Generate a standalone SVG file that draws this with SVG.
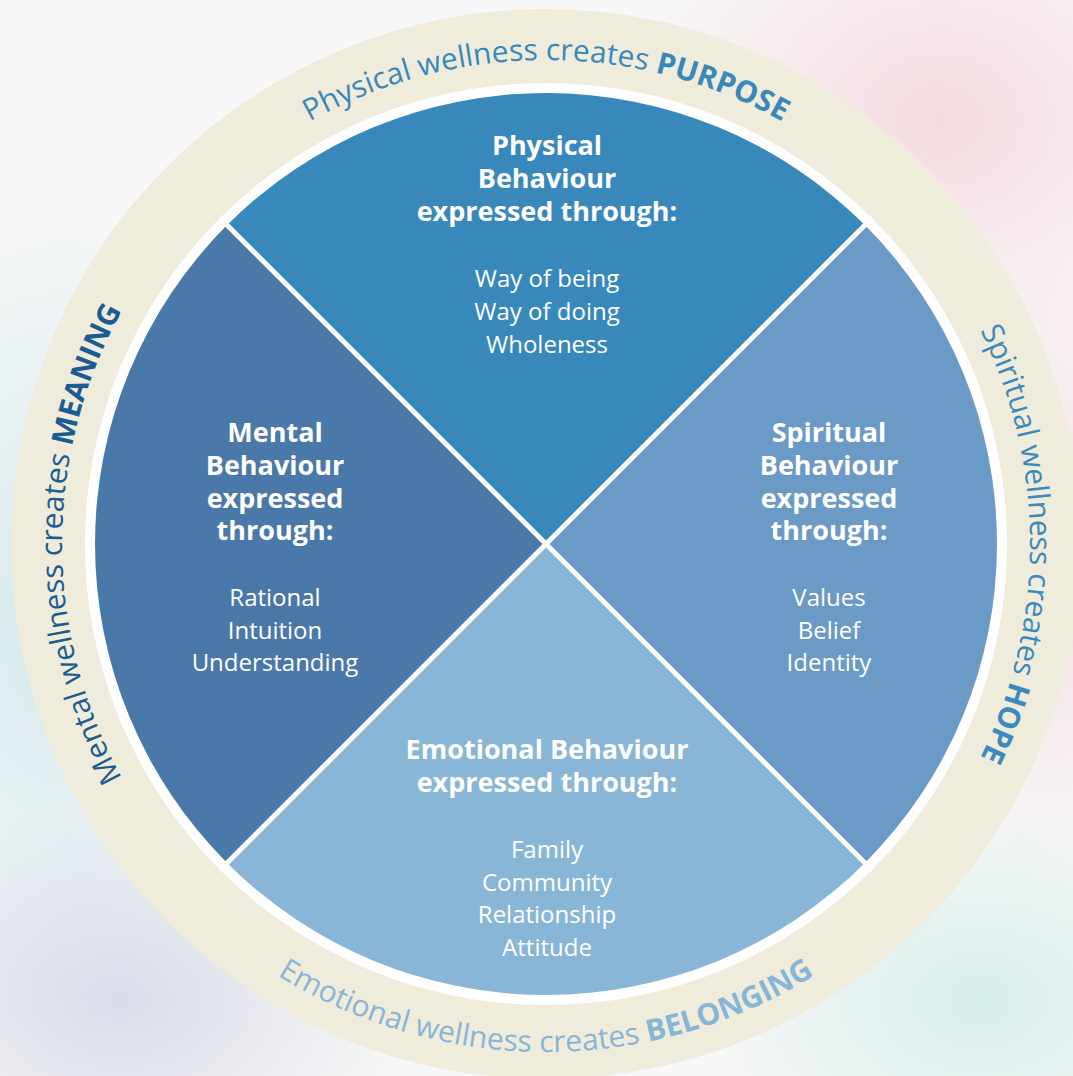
<svg xmlns="http://www.w3.org/2000/svg" width="1073" height="1076" viewBox="0 0 1073 1076">
  <defs>
    <style>
      .ring-txt { font-family: "Open Sans", "Noto Sans", "DejaVu Sans", sans-serif; font-size: 30px; font-weight: 400; }
      .ring-txt .b { font-weight: 700; }
      .head { font-family: "Open Sans", "Noto Sans", "DejaVu Sans", sans-serif; font-size: 27px; font-weight: 700; fill: #ffffff; text-anchor: middle; }
      .item { font-family: "Open Sans", "Noto Sans", "DejaVu Sans", sans-serif; font-size: 24px; font-weight: 400; fill: #ffffff; text-anchor: middle; }
    </style>
    <radialGradient id="bgPink" cx="0.5" cy="0.5" r="0.5">
      <stop offset="0" stop-color="#f4d6dc" stop-opacity="0.85"/>
      <stop offset="1" stop-color="#f4d6dc" stop-opacity="0"/>
    </radialGradient>
    <radialGradient id="bgCyan" cx="0.5" cy="0.5" r="0.5">
      <stop offset="0" stop-color="#cfe7ec" stop-opacity="0.9"/>
      <stop offset="1" stop-color="#cfe7ec" stop-opacity="0"/>
    </radialGradient>
    <radialGradient id="bgGrey" cx="0.5" cy="0.5" r="0.5">
      <stop offset="0" stop-color="#d6d9e6" stop-opacity="0.9"/>
      <stop offset="1" stop-color="#d6d9e6" stop-opacity="0"/>
    </radialGradient>
    <radialGradient id="bgMint" cx="0.5" cy="0.5" r="0.5">
      <stop offset="0" stop-color="#d3ece9" stop-opacity="0.9"/>
      <stop offset="1" stop-color="#d3ece9" stop-opacity="0"/>
    </radialGradient>
    <path id="arcTop" d="M 62 544 A 484 484 0 0 1 1030 544"/>
    <path id="arcLeft" d="M 546 1028 A 484 484 0 0 1 546 60"/>
    <path id="arcRight" d="M 546 60 A 484 484 0 0 1 546 1028"/>
    <path id="arcBottom" d="M 38 544 A 508 508 0 0 0 1054 544"/>
  </defs>

  <!-- background wash -->
  <rect x="0" y="0" width="1073" height="1076" fill="#f8f8f8"/>
  <ellipse cx="940" cy="120" rx="320" ry="260" fill="url(#bgPink)"/>
  <ellipse cx="60" cy="620" rx="240" ry="420" fill="url(#bgCyan)"/>
  <ellipse cx="120" cy="1000" rx="300" ry="200" fill="url(#bgGrey)"/>
  <ellipse cx="980" cy="1000" rx="280" ry="200" fill="url(#bgMint)"/>
  <ellipse cx="1040" cy="560" rx="160" ry="300" fill="url(#bgPink)"/>

  <!-- outer ring -->
  <circle cx="546" cy="544" r="535" fill="#f0ecdc"/>
  <circle cx="546" cy="544" r="461" fill="#ffffff"/>

  <g id="ring-labels">
    <text class="ring-txt" fill="#3888bc"><textPath href="#arcTop" startOffset="50%" text-anchor="middle">Physical wellness creates <tspan class="b">PURPOSE</tspan></textPath></text>
    <text class="ring-txt" fill="#1b5d93"><textPath href="#arcLeft" startOffset="50%" text-anchor="middle">Mental wellness creates <tspan class="b">MEANING</tspan></textPath></text>
    <text class="ring-txt" fill="#3a89bf"><textPath href="#arcRight" startOffset="50%" text-anchor="middle">Spiritual wellness creates <tspan class="b">HOPE</tspan></textPath></text>
    <text class="ring-txt" fill="#86b5d7"><textPath href="#arcBottom" startOffset="50%" text-anchor="middle">Emotional wellness creates <tspan class="b">BELONGING</tspan></textPath></text>
  </g>

  <g id="physical">
    <path d="M 546 544 L 227.1 225.1 A 451 451 0 0 1 864.9 225.1 Z" fill="#3888bc"/>
    <text class="head" x="547" y="155">Physical</text>
    <text class="head" x="547" y="188">Behaviour</text>
    <text class="head" x="547" y="221">expressed through:</text>
    <text class="item" x="547" y="287">Way of being</text>
    <text class="item" x="547" y="320">Way of doing</text>
    <text class="item" x="547" y="353">Wholeness</text>
  </g>

  <g id="spiritual">
    <path d="M 546 544 L 864.9 225.1 A 451 451 0 0 1 864.9 862.9 Z" fill="#6a9ac5"/>
    <text class="head" x="829" y="442">Spiritual</text>
    <text class="head" x="829" y="475">Behaviour</text>
    <text class="head" x="829" y="508">expressed</text>
    <text class="head" x="829" y="540">through:</text>
    <text class="item" x="829" y="606">Values</text>
    <text class="item" x="829" y="639">Belief</text>
    <text class="item" x="829" y="671">Identity</text>
  </g>

  <g id="emotional">
    <path d="M 546 544 L 864.9 862.9 A 451 451 0 0 1 227.1 862.9 Z" fill="#89b6d6"/>
    <text class="head" x="547" y="759">Emotional Behaviour</text>
    <text class="head" x="547" y="792">expressed through:</text>
    <text class="item" x="547" y="858">Family</text>
    <text class="item" x="547" y="891">Community</text>
    <text class="item" x="547" y="923">Relationship</text>
    <text class="item" x="547" y="956">Attitude</text>
  </g>

  <g id="mental">
    <path d="M 546 544 L 227.1 862.9 A 451 451 0 0 1 227.1 225.1 Z" fill="#4a78a8"/>
    <text class="head" x="275" y="442">Mental</text>
    <text class="head" x="275" y="475">Behaviour</text>
    <text class="head" x="275" y="508">expressed</text>
    <text class="head" x="275" y="540">through:</text>
    <text class="item" x="275" y="606">Rational</text>
    <text class="item" x="275" y="639">Intuition</text>
    <text class="item" x="275" y="671">Understanding</text>
  </g>

  <g id="connectors" stroke="#ffffff" stroke-width="5" stroke-linecap="butt">
    <line x1="220" y1="218" x2="872" y2="870"/>
    <line x1="872" y1="218" x2="220" y2="870"/>
  </g>
</svg>
